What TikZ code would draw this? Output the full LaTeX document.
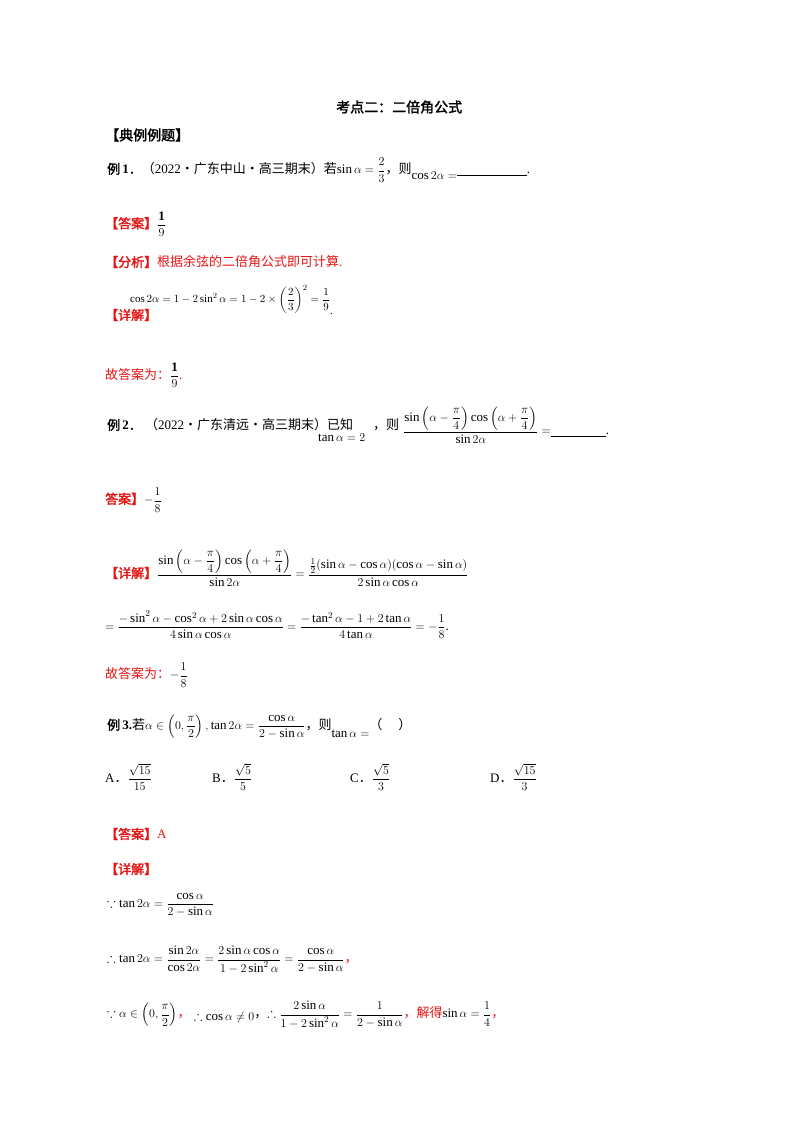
\documentclass[tikz,border=0pt]{standalone}
\usepackage{amsmath,amssymb}
\usepackage{fontspec}
\setmainfont{Liberation Serif}
\newfontfamily\cjk{Noto Sans CJK SC}
\newfontfamily\cjkb{Noto Sans CJK SC}[FakeBold=2]
\definecolor{ansred}{RGB}{230,20,20}
\begin{document}
\begin{tikzpicture}[x=1pt,y=-1pt,
  t/.style={anchor=west,inner sep=0pt,font=\fontsize{13}{15}\selectfont},
  r/.style={t,text=ansred}]
\useasboundingbox (0,0) rectangle (800,1132);
\node[t,font=\fontsize{14}{16}\selectfont\cjkb] (title) at (336,107) {考点二：二倍角公式};
\node[t,font=\fontsize{14}{16}\selectfont\cjkb] (h) at (105,135) {【典例例题】};
\node[t] (e1) at (107,170) {{\cjkb 例}\,\textbf{1}{\cjkb ．}{\cjk（}2022{\cjk·广东中山·高三期末）若}$\sin\alpha=\dfrac{2}{3}${\cjk，则}\raisebox{-6pt}{$\cos2\alpha=$}\underline{\hspace{70pt}}.};
\node[r] (a1) at (105,224) {{\cjkb 【答案】}\textcolor{black}{$\dfrac{\mathbf 1}{9}$}};
\node[r] (f1) at (105,262) {{\cjkb 【分析】}{\cjk 根据余弦的二倍角公式即可计算}.};
\node[r] (d1) at (105,315) {\cjkb 【详解】};
\node[t,font=\fontsize{11}{13}\selectfont] (m1) at (130,300) {$\cos2\alpha=1-2\sin^2\alpha=1-2\times\left(\dfrac{2}{3}\right)^2=\dfrac{1}{9}$\raisebox{-12pt}{.}};
\node[r] (g1) at (105,375) {{\cjk 故答案为：}\textcolor{black}{$\dfrac{\mathbf 1}{9}$}.};
\node[t] (e2) at (107,425) {{\cjkb 例}\,\textbf{2}{\cjkb ．}\ {\cjk（}2022{\cjk·广东清远·高三期末）已知}\hspace{20pt}{\cjk，则}};
\node[t] (e2b) at (318,438) {$\tan\alpha=2$};
\node[t] (e2c) at (403,425) {$\dfrac{\sin\left(\alpha-\dfrac{\pi}{4}\right)\cos\left(\alpha+\dfrac{\pi}{4}\right)}{\sin2\alpha}=$\underline{\hspace{55pt}}.};
\node[r] (a2) at (105,500) {{\cjkb 答案】}\textcolor{black}{$-\dfrac{1}{8}$}};
\node[r] (d2) at (105,568) {{\cjkb 【详解】}\textcolor{black}{$\dfrac{\sin\left(\alpha-\dfrac{\pi}{4}\right)\cos\left(\alpha+\dfrac{\pi}{4}\right)}{\sin2\alpha}=\dfrac{\frac12(\sin\alpha-\cos\alpha)(\cos\alpha-\sin\alpha)}{2\sin\alpha\cos\alpha}$}};
\node[t] (l2) at (105,625) {$=\dfrac{-\sin^2\alpha-\cos^2\alpha+2\sin\alpha\cos\alpha}{4\sin\alpha\cos\alpha}=\dfrac{-\tan^2\alpha-1+2\tan\alpha}{4\tan\alpha}=-\dfrac{1}{8}$.};
\node[r] (g2) at (105,675) {{\cjk 故答案为：}\textcolor{black}{$-\dfrac{1}{8}$}};
\node[t] (e3) at (107,727) {{\cjkb 例}\,\textbf{3.}{\cjk 若}$\alpha\in\left(0,\dfrac{\pi}{2}\right),\tan2\alpha=\dfrac{\cos\alpha}{2-\sin\alpha}${\cjk，则}\raisebox{-8pt}{$\tan\alpha=$}{\cjk（\quad\ ）}};
\node[t] (oA) at (105,777) {A{\cjk ．}$\dfrac{\sqrt{15}}{15}$};
\node[t] (oB) at (212,777) {B{\cjk ．}$\dfrac{\sqrt5}{5}$};
\node[t] (oC) at (350,777) {C{\cjk ．}$\dfrac{\sqrt5}{3}$};
\node[t] (oD) at (490,777) {D{\cjk ．}$\dfrac{\sqrt{15}}{3}$};
\node[r] (a3) at (105,834) {{\cjkb 【答案】}A};
\node[r] (d3) at (105,869) {\cjkb 【详解】};
\node[t] (s1) at (107,905) {$\because\tan2\alpha=\dfrac{\cos\alpha}{2-\sin\alpha}$};
\node[t] (s2) at (107,960) {$\therefore\tan2\alpha=\dfrac{\sin2\alpha}{\cos2\alpha}=\dfrac{2\sin\alpha\cos\alpha}{1-2\sin^2\alpha}=\dfrac{\cos\alpha}{2-\sin\alpha}$\textcolor{ansred}{\cjk，}};
\node[t] (s3) at (107,1015) {$\because\alpha\in\left(0,\dfrac{\pi}{2}\right)$\textcolor{ansred}{\cjk，}\ \raisebox{-3pt}{$\therefore\cos\alpha\ne0$}{\cjk，}$\therefore\dfrac{2\sin\alpha}{1-2\sin^2\alpha}=\dfrac{1}{2-\sin\alpha}$\textcolor{ansred}{{\cjk ，解得}}$\sin\alpha=\dfrac{1}{4}$\textcolor{ansred}{\cjk ，}};
\end{tikzpicture}
\end{document}
